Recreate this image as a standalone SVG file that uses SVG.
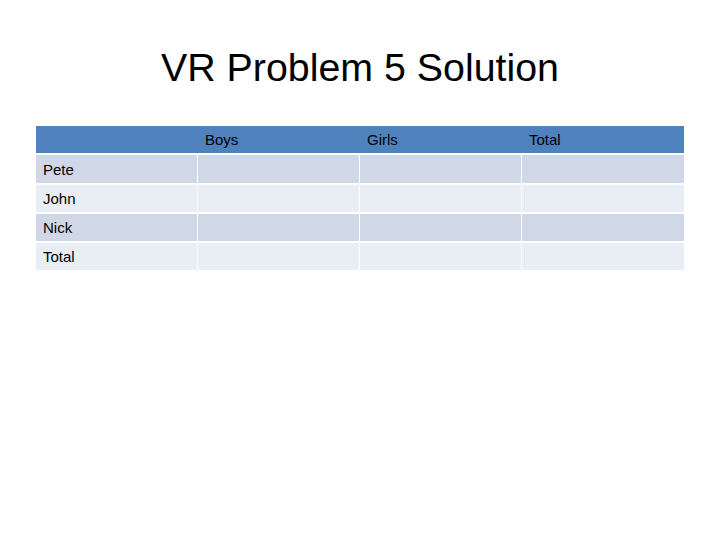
<svg xmlns="http://www.w3.org/2000/svg" width="720" height="540" viewBox="0 0 720 540">
<style>
.t{font-family:"Liberation Sans","DejaVu Sans",sans-serif;font-size:15px;fill:#000}
.h{fill:#4F81BD}.a{fill:#D0D8E8}.b{fill:#E9EDF4}
</style>
<rect width="720" height="540" fill="#fff"/>
<text x="360" y="81" text-anchor="middle" font-family="Liberation Sans, DejaVu Sans, sans-serif" font-size="38" textLength="398" lengthAdjust="spacingAndGlyphs">VR Problem 5 Solution</text>
<g id="table">
<rect class="h" x="36" y="126" width="648" height="27"/>
<g class="a"><rect x="36" y="155" width="161" height="28"/><rect x="198" y="155" width="161" height="28"/><rect x="360" y="155" width="161" height="28"/><rect x="522" y="155" width="162" height="28"/></g>
<g class="b"><rect x="36" y="185" width="161" height="27"/><rect x="198" y="185" width="161" height="27"/><rect x="360" y="185" width="161" height="27"/><rect x="522" y="185" width="162" height="27"/></g>
<g class="a"><rect x="36" y="214" width="161" height="27"/><rect x="198" y="214" width="161" height="27"/><rect x="360" y="214" width="161" height="27"/><rect x="522" y="214" width="162" height="27"/></g>
<g class="b"><rect x="36" y="243" width="161" height="27"/><rect x="198" y="243" width="161" height="27"/><rect x="360" y="243" width="161" height="27"/><rect x="522" y="243" width="162" height="27"/></g>
<text class="t" x="205" y="145">Boys</text>
<text class="t" x="367" y="145">Girls</text>
<text class="t" x="529" y="145">Total</text>
<text class="t" x="43" y="175">Pete</text>
<text class="t" x="43" y="204">John</text>
<text class="t" x="43" y="233">Nick</text>
<text class="t" x="43" y="262">Total</text>
</g>
</svg>
